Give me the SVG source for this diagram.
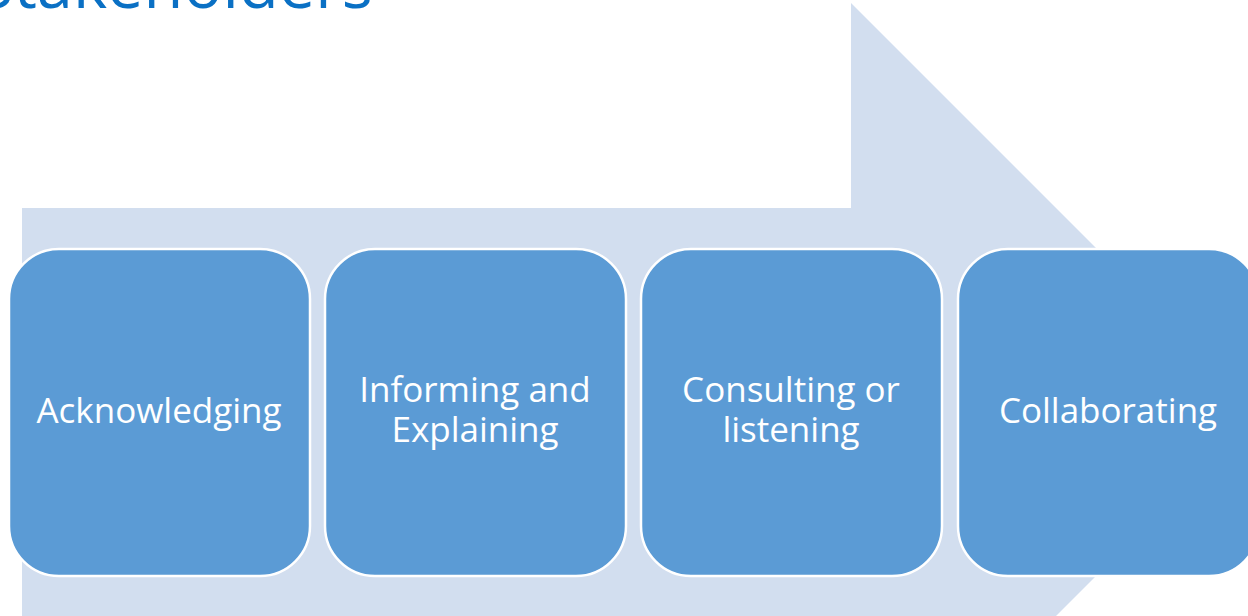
<svg xmlns="http://www.w3.org/2000/svg" width="1248" height="616" viewBox="0 0 1248 616">
  <style>
    .title { font-family: "Open Sans", "Liberation Sans", sans-serif; font-size: 65px; fill: #0A70C4; }
    .band { fill: #D2DEEF; }
    .step { fill: #5B9BD5; stroke: #FFFFFF; stroke-width: 2.5; }
    .label { font-family: "Open Sans", "Liberation Sans", sans-serif; font-size: 35px; fill: #FFFFFF; text-anchor: middle; }
  </style>
  <rect width="1248" height="616" fill="#FFFFFF"/>

  <!-- heading, running off the top edge -->
  <text class="title" x="-22" y="8">Stakeholders</text>

  <!-- background process arrow -->
  <g id="process-arrow">
    <polygon class="band" points="22,208 851,208 851,3 1260,412 851,821 851,616 22,616"/>
  </g>

  <g id="connectors"></g>

  <g id="step-acknowledging">
    <rect class="step" x="9" y="249" width="301" height="327" rx="50" ry="50"/>
    <text class="label" x="159" y="423">Acknowledging</text>
  </g>

  <g id="step-informing">
    <rect class="step" x="325" y="249" width="301" height="327" rx="50" ry="50"/>
    <text class="label" x="475" y="402">Informing and</text>
    <text class="label" x="475" y="442">Explaining</text>
  </g>

  <g id="step-consulting">
    <rect class="step" x="641" y="249" width="301" height="327" rx="50" ry="50"/>
    <text class="label" x="791" y="402">Consulting or</text>
    <text class="label" x="791" y="442">listening</text>
  </g>

  <g id="step-collaborating">
    <rect class="step" x="958" y="249" width="301" height="327" rx="50" ry="50"/>
    <text class="label" x="1108" y="423">Collaborating</text>
  </g>
</svg>
